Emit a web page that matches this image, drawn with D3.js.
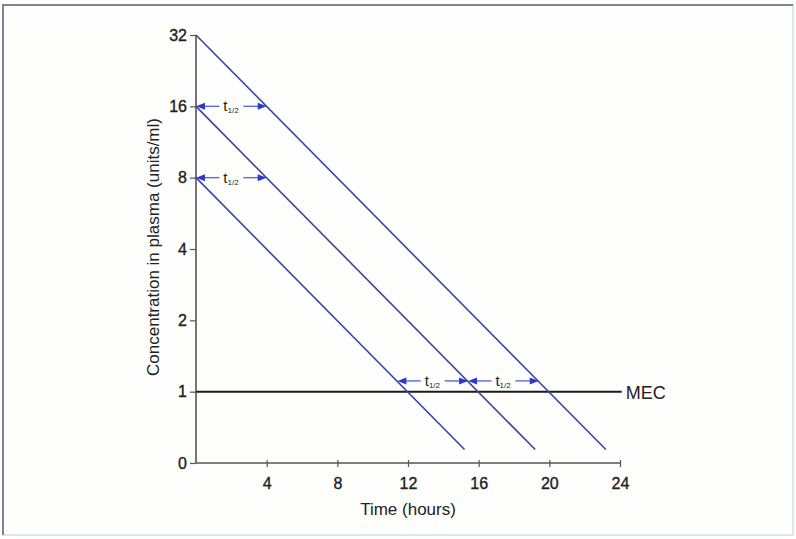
<!DOCTYPE html>
<html>
<head>
<meta charset="utf-8">
<script src="https://cdn.jsdelivr.net/npm/d3@7"></script>
<style>
  html, body { margin: 0; padding: 0; background: #ffffff; }
  svg { display: block; }
  text { font-family: "Liberation Sans", Arial, sans-serif; fill: #222; }
</style>
</head>
<body>
<svg id="chart" width="796" height="539"></svg>
<script>
// ---- Data ----
const xTicks = [4, 8, 12, 16, 20, 24];
const yTickValues = [0.5, 1, 2, 4, 8, 16, 32];
const yTickLabels = ["0", "1", "2", "4", "8", "16", "32"];
// Decay lines: [time (h), concentration]
const decayStart = [[0, 32], [0, 16], [0, 8]];
const decayEnd = [[23.2, 0.57], [19.2, 0.57], [15.2, 0.57]];
const mecLevel = 1;
const mecEnd = 24.1;
// Half-life arrows: level, from t, to t
const arrowLevels = [16, 8, 1.11, 1.11];
const arrowFrom = [0, 0, 11.4, 15.4];
const arrowTo = [4, 4, 15.4, 19.4];

// ---- Scales ----
const svg = d3.select("#chart");
const x = d3.scaleLinear().domain([0, 24]).range([196, 620]);
const y = d3.scaleLog().base(2).domain([0.5, 32]).range([463, 35]);

// background & frame
svg.append("rect").attr("x", 0).attr("y", 0).attr("width", 796).attr("height", 539).attr("fill", "#ffffff");
svg.append("rect").attr("x", 3).attr("y", 5).attr("width", 790).attr("height", 530)
  .attr("fill", "#fefefc").attr("stroke", "#dde6f2").attr("stroke-width", 2);
svg.append("path").attr("d", "M3,535 L3,5 L793,5").attr("fill", "none")
  .attr("stroke", "#7d8494").attr("stroke-width", 2);

// ---- Axes ----
const yAxis = d3.axisLeft(y).tickValues(yTickValues)
  .tickFormat((d, i) => yTickLabels[i]).tickSize(6).tickPadding(3);
const gy = svg.append("g").attr("transform", `translate(${x(0)},0)`).call(yAxis);
gy.select(".domain").attr("d", `M0,${y(0.5)}V${y(32)}`).attr("stroke", "#555").attr("stroke-width", 1.6);
gy.selectAll(".tick line").attr("stroke", "#555").attr("stroke-width", 1.2);
gy.selectAll(".tick text").attr("font-size", 16).attr("fill", "#1e1e1e")
  .attr("font-family", "Liberation Sans, Arial, sans-serif")
  .attr("stroke", "#1e1e1e").attr("stroke-width", 0.35);

const xAxis = d3.axisBottom(x).tickValues(xTicks).tickSize(4).tickPadding(6);
const gx = svg.append("g").attr("transform", `translate(0,${y(0.5)})`).call(xAxis);
gx.select(".domain").attr("d", `M${x(0)},0H${x(24)}`).attr("stroke", "#555").attr("stroke-width", 1.6);
gx.selectAll(".tick line").attr("stroke", "#555").attr("stroke-width", 1.2).attr("y1", -3);
gx.selectAll(".tick text").attr("font-size", 16).attr("fill", "#1e1e1e")
  .attr("font-family", "Liberation Sans, Arial, sans-serif")
  .attr("dy", null).attr("y", 26)
  .attr("stroke", "#1e1e1e").attr("stroke-width", 0.35);

// axis titles
svg.append("text").attr("x", 408).attr("y", 515).attr("text-anchor", "middle")
  .attr("font-size", 17).text("Time (hours)");
svg.append("text").attr("transform", `translate(159,247) rotate(-90)`)
  .attr("text-anchor", "middle").attr("font-size", 17)
  .text("Concentration in plasma (units/ml)");

// ---- MEC line ----
svg.append("line").attr("x1", x(0)).attr("x2", x(mecEnd))
  .attr("y1", y(mecLevel)).attr("y2", y(mecLevel))
  .attr("stroke", "#1a1a1a").attr("stroke-width", 2);
svg.append("text").attr("x", x(mecEnd) + 4).attr("y", y(mecLevel) + 7)
  .attr("font-size", 18).text("MEC");

// ---- Decay lines ----
decayStart.forEach((s, i) => {
  const e = decayEnd[i];
  svg.append("line")
    .attr("x1", x(s[0])).attr("y1", y(s[1]))
    .attr("x2", x(e[0])).attr("y2", y(e[1]))
    .attr("stroke", "#3c44a4").attr("stroke-width", 1.6);
});

// ---- Half-life arrows ----
const arrowColor = "#2b3bc8";
arrowLevels.forEach((lv, i) => {
  const x0 = x(arrowFrom[i]), x1 = x(arrowTo[i]), yy = y(lv);
  const cx = (x0 + x1) / 2;
  const gap = 12;
  svg.append("line").attr("x1", x0 + 6).attr("x2", cx - gap).attr("y1", yy).attr("y2", yy)
    .attr("stroke", "#5a6ad8").attr("stroke-width", 1.4);
  svg.append("line").attr("x1", cx + gap).attr("x2", x1 - 6).attr("y1", yy).attr("y2", yy)
    .attr("stroke", "#5a6ad8").attr("stroke-width", 1.4);
  svg.append("path").attr("d", `M${x0},${yy} L${x0 + 9},${yy - 3.5} L${x0 + 9},${yy + 3.5} Z`)
    .attr("fill", arrowColor);
  svg.append("path").attr("d", `M${x1},${yy} L${x1 - 9},${yy - 3.5} L${x1 - 9},${yy + 3.5} Z`)
    .attr("fill", arrowColor);
  const t = svg.append("text").attr("x", cx - 8).attr("y", yy + 5).attr("font-size", 15)
    .attr("fill", "#2a2a3a");
  t.append("tspan").text("t");
  t.append("tspan").attr("font-size", 8).attr("dy", 2).text("1/2");
});
</script>
</body>
</html>
